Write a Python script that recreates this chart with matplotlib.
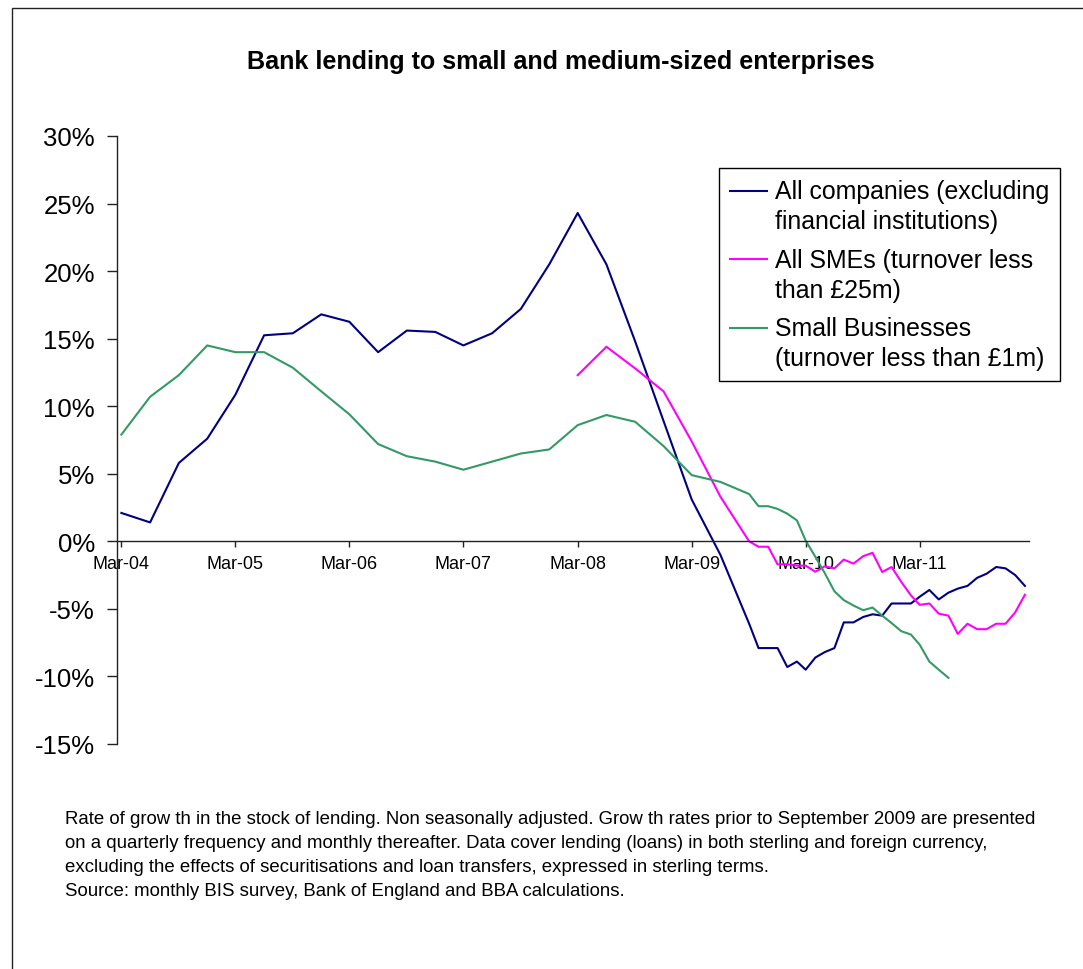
import numpy as np
import pandas as pd
import matplotlib
matplotlib.use('Agg')
import matplotlib.pyplot as plt
import matplotlib.dates as mdates
from matplotlib.patches import Rectangle
from matplotlib.legend_handler import HandlerLine2D
from matplotlib.ticker import FuncFormatter

plt.rcParams['font.family'] = ['Liberation Sans', 'DejaVu Sans']
plt.rcParams['axes.unicode_minus'] = False

# quarterly up to Jun-09, monthly from Sep-09
quarter_dates = pd.date_range('2004-03-01', '2009-06-01', freq='3MS')
month_dates = pd.date_range('2009-09-01', '2012-02-01', freq='MS')
sme_quarter_dates = pd.date_range('2008-03-01', '2009-06-01', freq='3MS')

all_companies_q = [2.1, 1.4, 5.8, 7.6, 10.85, 15.25, 15.4, 16.8, 16.25, 14.0, 15.6,
                   15.5, 14.5, 15.4, 17.2, 20.5, 24.3, 20.5, 14.8, 8.9, 3.1, -1.0]
all_companies_m = [-6.1, -7.9, -7.9, -7.9, -9.3, -8.9, -9.5, -8.6, -8.2, -7.9,
                   -6.0, -6.0, -5.6, -5.4, -5.5, -4.6, -4.6, -4.6, -4.1, -3.6,
                   -4.3, -3.8, -3.5, -3.3, -2.7, -2.4, -1.9, -2.0, -2.5, -3.3]

sme_q = [12.3, 14.4, 12.8, 11.1, 7.4, 3.3]
sme_m = [0.0, -0.4, -0.4, -1.7, -1.7, -1.8, -1.8, -2.25, -1.85, -2.0,
         -1.35, -1.65, -1.1, -0.85, -2.27, -1.9, -3.0, -4.0, -4.7, -4.6,
         -5.35, -5.5, -6.85, -6.1, -6.5, -6.5, -6.1, -6.1, -5.25, -3.95]

small_q = [7.9, 10.7, 12.3, 14.5, 14.0, 14.0, 12.85, 11.1, 9.4, 7.2, 6.3,
           5.9, 5.3, 5.9, 6.5, 6.8, 8.6, 9.35, 8.85, 7.05, 4.9, 4.4]
small_m = [3.5, 2.6, 2.6, 2.4, 2.05, 1.55, 0.05, -1.15, -2.35, -3.7, -4.35,
           -4.75, -5.1, -4.9, -5.5, -6.05, -6.65, -6.9, -7.65, -8.9, -9.5, -10.1]

labels = ['All companies (excluding\nfinancial institutions)',
          'All SMEs (turnover less\nthan \u00a325m)',
          'Small Businesses\n(turnover less than \u00a31m)']
colors = ['#000080', '#FF00FF', '#339966']

title = 'Bank lending to small and medium-sized enterprises'
note = ('Rate of grow th in the stock of lending. Non seasonally adjusted. Grow th rates prior to September 2009 are presented\n'
        'on a quarterly frequency and monthly thereafter. Data cover lending (loans) in both sterling and foreign currency,\n'
        'excluding the effects of securitisations and loan transfers, expressed in sterling terms.\n'
        'Source: monthly BIS survey, Bank of England and BBA calculations.')

LEG_LS = 1.3


class FirstLineHandler(HandlerLine2D):
    # put the legend line next to the first line of a two-line label
    def create_artists(self, legend, orig_handle, xdescent, ydescent, width, height, fontsize, trans):
        artists = super().create_artists(legend, orig_handle, xdescent, ydescent,
                                         width, height, fontsize, trans)
        for a in artists:
            a.set_ydata(np.asarray(a.get_ydata()) + LEG_LS / 2 * fontsize)
        return artists


W, H = 1083, 970
fig = plt.figure(figsize=(W / 100, H / 100), dpi=100)
ax = fig.add_axes([117 / W, 1 - 745 / H, (1029 - 117) / W, (745 - 137) / H])

l1, = ax.plot(quarter_dates.append(month_dates), all_companies_q + all_companies_m,
              color=colors[0], lw=1.5)
l2, = ax.plot(sme_quarter_dates.append(month_dates), sme_q + sme_m,
              color=colors[1], lw=1.5)
l3, = ax.plot(quarter_dates.append(month_dates[:len(small_m)]), small_q + small_m,
              color=colors[2], lw=1.5)

ax.set_ylim(-15, 30)
ax.set_yticks(range(-15, 31, 5))
ax.yaxis.set_major_formatter(FuncFormatter(lambda v, _: f'{v:.0f}%'))
ax.set_xlim(pd.Timestamp('2004-02-16'), pd.Timestamp('2012-02-14'))
ax.xaxis.set_major_locator(mdates.MonthLocator(bymonth=3, bymonthday=1))
ax.xaxis.set_major_formatter(mdates.DateFormatter('%b-%y'))

for s in ['top', 'right']:
    ax.spines[s].set_visible(False)
ax.spines['bottom'].set_position(('data', 0))
for s in ['left', 'bottom']:
    ax.spines[s].set_color('#222222')
    ax.spines[s].set_linewidth(1.0)
ax.tick_params(axis='y', direction='out', length=7, width=1, color='#222222',
               labelsize=18.5, pad=9)
ax.tick_params(axis='x', direction='out', length=4, width=1, color='#222222',
               labelsize=13, pad=6)

leg = ax.legend([l1, l2, l3], labels, loc='upper left',
                bbox_to_anchor=(719 / W, 1 - 169 / H), bbox_transform=fig.transFigure,
                borderaxespad=0, fontsize=17.9, frameon=True, fancybox=False,
                framealpha=1, edgecolor='black', handlelength=1.5,
                handletextpad=0.3, labelspacing=0.6, borderpad=0.45,
                handler_map={matplotlib.lines.Line2D: FirstLineHandler()})
leg.get_frame().set_linewidth(1.0)
for t in leg.get_texts():
    t.set_linespacing(LEG_LS)

fig.text(561 / W, 1 - 62 / H, title, ha='center', va='center',
         fontsize=18.1, fontweight='bold')
fig.text(65 / W, 1 - 811 / H, note, ha='left', va='top', fontsize=13.4,
         linespacing=1.55)

fig.add_artist(Rectangle((12 / W, -0.1), 1.2, 1.1 - 9 / H, transform=fig.transFigure,
                         fill=False, edgecolor='#222222', lw=1.0))

fig.savefig('out.png', dpi=100)
